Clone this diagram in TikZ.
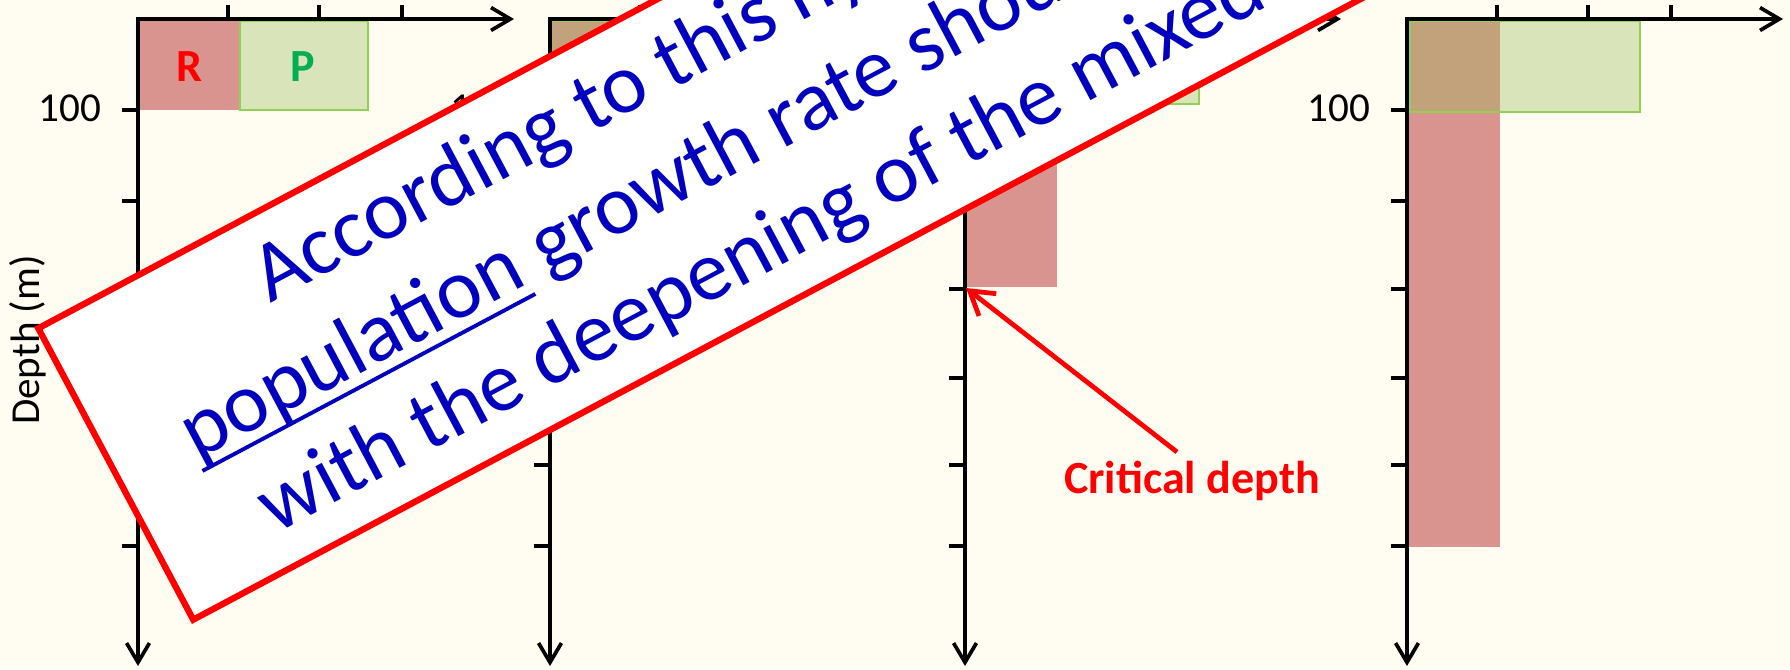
\documentclass[tikz,border=0pt]{standalone}
\usepackage{fontspec}
\setmainfont{Carlito}
\usetikzlibrary{arrows.meta}

\definecolor{paper}{HTML}{FFFCF2}
\definecolor{respred}{HTML}{C0504D}
\definecolor{prodgreen}{HTML}{9BBB59}
\definecolor{prodedge}{HTML}{92D050}
\definecolor{labgreen}{HTML}{00B050}
\definecolor{textblue}{HTML}{0000BE}

\tikzset{
  axisline/.style={line width=1.05pt, {Straight Barb[length=5.5pt,width=6.5pt]}-{Straight Barb[length=5.5pt,width=6.5pt]}},
  tickmark/.style={line width=1.05pt},
  respbox/.style={fill=respred, fill opacity=0.6},
  prodbox/.style={fill=prodgreen, fill opacity=0.36, draw=prodedge, line width=0.35pt},
  axislabel/.style={font=\fontsize{11.7}{14}\selectfont, inner sep=0pt},
  boxlabel/.style={font=\bfseries\fontsize{13.1}{15}\selectfont, inner sep=0pt},
  banner/.style={draw=red, fill=white, line width=1.8pt, line join=miter},
  bannertext/.style={font=\fontsize{24.2}{29}\selectfont, text=textblue, inner sep=0pt},
  critarrow/.style={draw=red, line width=1.35pt, -{Straight Barb[length=6.5pt,width=8pt]}}
}

\begin{document}
\begin{tikzpicture}[x=0.01cm, y=-0.01cm, line cap=butt]

    % Page
    \useasboundingbox (0,0) rectangle (1790,669);
    \fill[paper] (0,0) rectangle (1790,669);
    \clip (0,0) rectangle (1790,669);

    % Four depth profiles: axis x, R width, R depth, P offset, P width, P depth
    \foreach \ax/\rw/\rd/\gl/\gw/\gd in {138/102/110/102/128/110,
                                         550/91/201/0/230/110,
                                         965/92/287/0/234/104,
                                         1407/93/547/3/230/112}{
      \fill[respbox] (\ax,20) rectangle (\ax+\rw,\rd);
      \filldraw[prodbox] (\ax+\gl,21) rectangle (\ax+\gl+\gw,\gd);
      \draw[axisline] (\ax+376,19) -- (\ax,19) -- (\ax,666);
      \foreach \dx in {90,181,264}
        \draw[tickmark] (\ax+\dx,19) -- (\ax+\dx,5);
      \foreach \dy in {110,201,289,378,465,546}
        \draw[tickmark] (\ax,\dy) -- (\ax-16,\dy);
      \node[axislabel, anchor=base east] (hundred\ax) at (\ax-36,121) {100};
    }

    % Box labels
    \node[boxlabel, text=red] (rlab) at (189,67) {R};
    \node[boxlabel, text=labgreen] (plab) at (303,67) {P};

    % Axis title
    \node[axislabel, rotate=90, anchor=base] (depthlab) at (40,340) {Depth (m)};

    % Critical depth
    \coordinate (critpt) at (966,288);
    \coordinate (crittail) at (1177,452);
    \node[boxlabel, text=red, anchor=base] (crit) at (1192,493) {Critical depth};
    \draw[critarrow] (crittail) -- (critpt);

    % Banner
    \begin{scope}[shift={(38.3,328.3)}, rotate=28, transform shape]
      \draw[banner] (0,0) rectangle (2400,330);
      \node[bannertext, anchor=base west] (lineone) at (216,87) {According to this hypothesis,};
      \node[bannertext, anchor=base west] (pop) at (78,191) {population};
      \node[bannertext, anchor=base west] (linetwo) at (pop.base east) {\ growth rate should};
      \node[bannertext, anchor=base west] (linethree) at (112,293) {with the deepening of the mixed};
      \draw[textblue, line width=1.1pt] (78,203) -- (455,203);
    \end{scope}

\end{tikzpicture}
\end{document}
